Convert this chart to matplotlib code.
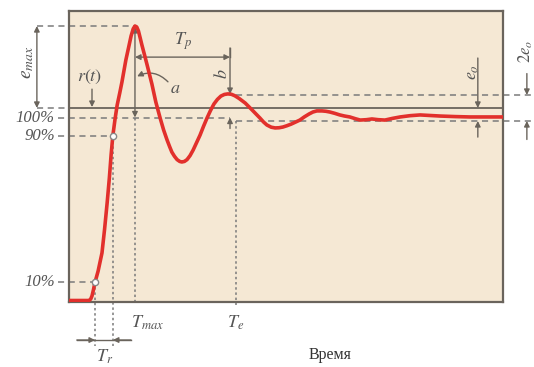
import matplotlib
matplotlib.use('Agg')
import matplotlib.pyplot as plt

# ---- data (time units, response in %) ----
time = [0, 0.46, 0.50, 0.53, 0.56, 0.60, 0.67, 0.76, 0.82, 0.88, 0.93, 0.97, 1.01,
        1.06, 1.11, 1.17, 1.22, 1.31, 1.38, 1.43, 1.48, 1.52, 1.56, 1.60, 1.64,
        1.68, 1.74, 1.80, 1.91, 2.00, 2.10, 2.18, 2.26, 2.32, 2.37, 2.43, 2.49,
        2.55, 2.60, 2.66, 2.72, 2.79, 2.86, 2.94, 3.02, 3.10, 3.18, 3.26, 3.34,
        3.42, 3.50, 3.58, 3.66, 3.74, 3.82, 3.92, 4.06, 4.22, 4.40, 4.48, 4.56,
        4.66, 4.75, 4.84, 4.93, 5.02, 5.12, 5.22, 5.32, 5.42, 5.53, 5.62, 5.71,
        5.83, 5.92, 6.01, 6.12, 6.24, 6.35, 6.47, 6.59, 6.71, 6.85, 6.98, 7.13,
        7.28, 7.45, 7.63, 7.86, 8.09, 8.32, 8.55, 8.90, 9.24, 10.0]
response = [0, 0, 0.8, 2.5, 5.5, 10, 16, 26, 39, 53.6, 67, 79.5, 90,
            99, 106.8, 113.5, 119.4, 131.4, 139, 144.5, 148.5, 150, 149.5, 147.3, 143.5,
            139.6, 134.2, 128.7, 118.3, 108.5, 99.7, 93.2, 87.7, 84, 81.1, 78.8, 77.0,
            76.0, 75.7, 76.0, 77.0, 79.2, 82.2, 86.3, 90.4, 95.2, 99.7, 103.8, 107.4,
            109.9, 111.7, 112.6, 112.9, 112.7, 111.9, 110.4, 107.9, 104.1, 99.7, 97.6, 95.9,
            94.7, 94.3, 94.4, 94.8, 95.5, 96.4, 97.5, 98.6, 100.3, 101.9, 103.0, 103.6,
            103.6, 103.4, 103.0, 102.3, 101.4, 100.8, 100.3, 99.4, 98.6, 98.8, 99.2, 98.8,
            98.6, 99.5, 100.3, 101.0, 101.4, 101.1, 100.8, 100.5, 100.3, 100.3]

pct_levels = [100, 90, 10]
pct_labels = ['100%', '90%', '10%']
t10, t90 = 0.60, 1.01
t_max, t_b, t_e = 1.52, 3.71, 3.85
peak = 150.0
r_level = 105.2
band_hi, band_lo = 112.3, 98.1
t_eo = 9.42

plt.rcParams['mathtext.fontset'] = 'stix'
gray = '#7a7a7a'
dark = '#6a645c'
red = '#e2302c'
tcol = '#555555'

fig = plt.figure(figsize=(5.34, 3.67), dpi=100)
ax = fig.add_axes([69/534, 65/367, 434/534, 291/367])
ax.set_facecolor('#f5e8d4')
ax.set_xlim(0, 10)
ax.set_ylim(-0.82, 158.2)
ax.set_xticks([]); ax.set_yticks([])
for s in ax.spines.values():
    s.set_color(dark); s.set_linewidth(1.6)

ser = dict(family='Liberation Serif', style='italic', fontsize=12, color=tcol)

def dash(x0, x1, y0, y1, style='dash', c=gray, lw=1.1):
    d = (4, 3) if style == 'dash' else (1.6, 1.8)
    ax.plot([x0, x1], [y0, y1], color=c, lw=lw, dashes=d, clip_on=False, zorder=2)

def arrow(xy, xytext, st='-|>'):
    ax.annotate('', xy=xy, xytext=xytext, annotation_clip=False,
                arrowprops=dict(arrowstyle=st, color=dark, lw=1.0, mutation_scale=8,
                                shrinkA=0, shrinkB=0), zorder=3)

# reference r(t) line
ax.plot([0, 10], [r_level, r_level], color=dark, lw=1.3, zorder=2)
dash(-0.74, 0, r_level, r_level)
# e_max
dash(-0.74, t_max, peak, peak)
arrow((-0.74, peak), (-0.74, r_level), '<|-|>')
ax.text(-0.97, 130, r'$e_{max}$', rotation=90, ha='center', va='center', fontsize=14, color=tcol)
# r(t) label
ax.text(0.48, 122, r'$r(t)$', ha='center', va='center', fontsize=13, color=tcol)
arrow((0.53, r_level + 0.5), (0.53, 115.5))

# percentage levels
dash(-0.25, t_b, 100, 100)
dash(-0.25, t90, 90, 90)
dash(-0.25, t10, 10, 10)
for lv, lb in zip(pct_levels, pct_labels):
    ax.text(-0.33, lv, lb, ha='right', va='center', **ser)

# dotted verticals
dash(t10, t10, 10, -25, 'dot')
dash(t90, t90, 90, -25, 'dot')
dash(t_max, t_max, 100, -2.5, 'dot')
dash(t_e, t_e, band_lo, -2.5, 'dot')

# T_r arrows
ax.plot([0.18, 1.43], [-21.6, -21.6], color=dark, lw=1.0, clip_on=False)
arrow((t10, -21.6), (0.18, -21.6))
arrow((t90, -21.6), (1.43, -21.6))
ax.text(0.81, -31, r'$T_r$', ha='center', va='center', fontsize=13, color=tcol)
ax.text(1.82, -12, r'$T_{max}$', ha='center', va='center', fontsize=13, color=tcol)
ax.text(t_e, -12, r'$T_e$', ha='center', va='center', fontsize=13, color=tcol)
ax.text(6.01, -30, 'Время', ha='center', va='center', family='Liberation Serif',
        fontsize=11.5, color='#333333')

# T_max vertical double arrow
arrow((t_max, peak - 0.5), (t_max, 100), '<|-|>')
# T_p
arrow((t_max, 133), (t_b, 133), '<|-|>')
ax.plot([t_b, t_b], [138, 133], color=dark, lw=1.0)
ax.text(2.63, 141.5, r'$T_p$', ha='center', va='center', fontsize=13, color=tcol)
# a
ax.text(2.44, 116, r'$a$', ha='center', va='center', fontsize=13, color=tcol)
ax.annotate('', xy=(t_max + 0.05, 122.5), xytext=(2.28, 119.5), annotation_clip=False,
            arrowprops=dict(arrowstyle='-|>', color=dark, lw=1.0, mutation_scale=8,
                            shrinkA=0, shrinkB=0, connectionstyle='arc3,rad=0.35'))
# b
arrow((t_b, 112.8), (t_b, 138))
arrow((t_b, 100), (t_b, 94))
ax.text(3.53, 124, r'$b$', rotation=90, ha='center', va='center', fontsize=13, color=tcol)

# band lines
dash(t_e, 11.2, band_hi, band_hi)
dash(t_e, 11.2, band_lo, band_lo)
# e_o
arrow((t_eo, r_level), (t_eo, 132.5))
arrow((t_eo, band_lo), (t_eo, 89.3))
ax.text(9.29, 125, r'$e_o$', rotation=90, ha='center', va='center', fontsize=13, color=tcol)
# 2e_o at the right edge
arrow((10.55, band_hi), (10.55, 124))
arrow((10.55, band_lo), (10.55, 88))
ax.text(10.52, 136, r'$2e_o$', rotation=90, ha='center', va='center', fontsize=12, color=tcol)

# response curve
ax.plot(time, response, color=red, lw=2.6, solid_joinstyle='round', zorder=4)
ax.plot([t10, t90], [10, 90], 'o', ms=4.5, mfc='white', mec='#888888', mew=1, zorder=5)

fig.savefig('out.png', dpi=100)
